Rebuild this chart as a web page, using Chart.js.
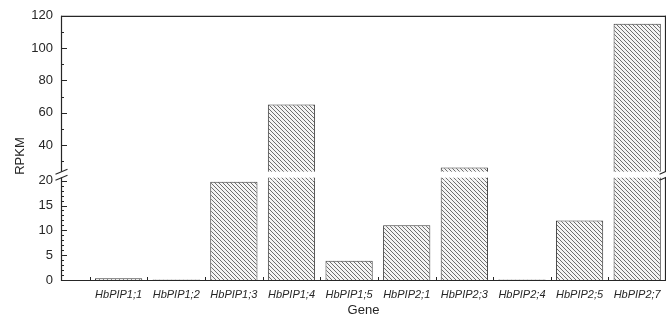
<!DOCTYPE html>
<html>
<head>
<meta charset="utf-8">
<script src="https://cdn.jsdelivr.net/npm/chart.js@4/dist/chart.umd.min.js"></script>
<style>
  html, body { margin: 0; padding: 0; background: #fff; }
  canvas { display: block; }
</style>
</head>
<body>
<canvas id="c" width="666" height="324"></canvas>
<script>
// Aquaporin (PIP) transcript abundance
const genes = ['HbPIP1;1', 'HbPIP1;2', 'HbPIP1;3', 'HbPIP1;4', 'HbPIP1;5',
               'HbPIP2;1', 'HbPIP2;3', 'HbPIP2;4', 'HbPIP2;5', 'HbPIP2;7'];
const rpkm = [0.35, 0.1, 19.8, 65, 3.9, 11, 26, 0.1, 12, 115];

// broken value axis: lower segment 0-20, upper segment 20-120
const BREAK = 20;
const lowTicks = [0, 5, 10, 15, 20];
const highTicks = [40, 60, 80, 100, 120];

const FONT = '"Liberation Sans", Arial, Helvetica, sans-serif';
const INK = '#262626';

function hatchPattern() {
  const c = document.createElement('canvas');
  c.width = 4; c.height = 4;
  const g = c.getContext('2d');
  g.fillStyle = '#f4f4f4';
  g.fillRect(0, 0, 4, 4);
  g.strokeStyle = '#6e6e6e';
  g.lineWidth = 1;
  g.beginPath();
  g.moveTo(-1, -1); g.lineTo(5, 5);
  g.moveTo(-1, 3); g.lineTo(1, 5);
  g.moveTo(3, -1); g.lineTo(5, 1);
  g.stroke();
  return g.createPattern(c, 'repeat');
}
const hatch = hatchPattern();

const lowData = rpkm.map((v, i) => ({ x: i + 1, y: Math.min(v, BREAK) }));
const highData = rpkm.map((v, i) => ({ x: i + 1, y: v > BREAK ? v : null }));

function line(ctx, x1, y1, x2, y2) {
  ctx.beginPath();
  ctx.moveTo(x1, y1);
  ctx.lineTo(x2, y2);
  ctx.stroke();
}

// frame, inward tick marks, axis break and y title
const framePlugin = {
  id: 'frame',
  afterDatasetsDraw(chart) {
    const ctx = chart.ctx;
    const a = chart.chartArea;
    const x = chart.scales.x, lo = chart.scales.yLow, hi = chart.scales.yHigh;
    const b = lo.top;
    const gTop = b - 9, gBot = b - 3;
    ctx.save();
    // gap through the bars
    ctx.fillStyle = '#fff';
    ctx.fillRect(a.left + 1, gTop, a.right - a.left - 1, gBot - gTop);

    ctx.strokeStyle = INK;
    ctx.lineWidth = 1.2;
    const L = a.left + 0.5, R = a.right - 0.5, T = a.top + 0.5, B = a.bottom + 0.5;
    line(ctx, a.left, T, a.right, T);
    line(ctx, a.left, B, a.right, B);
    line(ctx, L, a.top, L, gTop);
    line(ctx, L, gBot, L, a.bottom + 1);
    line(ctx, R, a.top, R, gTop);
    line(ctx, R, gBot, R, a.bottom + 1);

    // break marks
    ctx.lineWidth = 1.1;
    [L, R].forEach(px => {
      line(ctx, px - 6, gTop + 2.5, px + 6, gTop - 2.5);
      line(ctx, px - 6, gBot + 2.5, px + 6, gBot - 2.5);
    });

    // y tick marks
    ctx.lineWidth = 1;
    for (let v = 0; v < BREAK; v += 1) {
      const py = Math.round(lo.getPixelForValue(v)) + 0.5;
      line(ctx, a.left, py, a.left + (v % 5 === 0 ? 6 : 3), py);
    }
    const p20 = Math.round(lo.getPixelForValue(BREAK)) + 0.5;
    line(ctx, a.left, p20, a.left + 6, p20);
    for (let v = 30; v <= 120; v += 10) {
      const py = Math.round(hi.getPixelForValue(v)) + 0.5;
      line(ctx, a.left, py, a.left + (v % 20 === 0 ? 6 : 3), py);
    }
    // x tick marks at category boundaries
    for (let i = 0; i < genes.length; i++) {
      const px = Math.round(x.getPixelForValue(i + 0.5)) + 0.5;
      line(ctx, px, a.bottom, px, a.bottom - 3);
    }

    // y axis title
    ctx.fillStyle = INK;
    ctx.font = '13px ' + FONT;
    ctx.textAlign = 'center';
    ctx.textBaseline = 'middle';
    ctx.translate(20, 156);
    ctx.rotate(-Math.PI / 2);
    ctx.fillText('RPKM', 0, 0);
    ctx.restore();
  }
};

const barStyle = {
  backgroundColor: hatch,
  borderColor: '#3a3a3a',
  barPercentage: 0.82,
  categoryPercentage: 1,
};

const yTickStyle = { autoSkip: false, padding: 8, color: INK, font: { family: FONT, size: 13 } };

new Chart(document.getElementById('c'), {
  type: 'bar',
  data: {
    datasets: [
      Object.assign({
        label: 'low',
        data: lowData,
        yAxisID: 'yLow',
        borderWidth: ctx => ({ top: rpkm[ctx.dataIndex] > BREAK ? 0 : 1, left: 1, right: 1, bottom: 0 }),
        borderSkipped: false,
        grouped: false,
      }, barStyle),
      Object.assign({
        label: 'high',
        data: highData,
        yAxisID: 'yHigh',
        borderWidth: { top: 1, left: 1, right: 1, bottom: 0 },
        borderSkipped: false,
        grouped: false,
      }, barStyle),
    ]
  },
  options: {
    responsive: false,
    animation: false,
    layout: { padding: { top: 14, left: 0, right: 0, bottom: 0 } },
    plugins: { legend: { display: false }, tooltip: { enabled: false } },
    scales: {
      x: {
        type: 'linear',
        offset: false,
        min: 0,
        max: 10.5,
        grid: { display: false, drawTicks: false, offset: false },
        border: { display: false },
        afterBuildTicks: s => { s.ticks = genes.map((g, i) => ({ value: i + 1 })); },
        ticks: {
          autoSkip: false,
          maxRotation: 0,
          minRotation: 0,
          padding: 8,
          color: INK,
          font: { family: FONT, size: 11, style: 'italic' },
          callback: v => genes[v - 1],
        },
        title: {
          display: true,
          text: 'Gene',
          color: INK,
          font: { family: FONT, size: 13 },
          padding: { top: 4, bottom: 6 },
        },
        // frame runs to the right edge of the canvas
        afterFit: s => { s.height = 44; s.paddingLeft = 0; s.paddingRight = 0; },
      },
      yLow: {
        type: 'linear',
        position: 'left',
        stack: 'rpkm',
        stackWeight: 100,
        min: 0,
        max: BREAK,
        grid: { display: false, drawTicks: false },
        border: { display: false },
        afterBuildTicks: s => { s.ticks = lowTicks.map(v => ({ value: v })); },
        ticks: yTickStyle,
        afterFit: s => { s.width = 61; },
      },
      yHigh: {
        type: 'linear',
        position: 'left',
        stack: 'rpkm',
        stackWeight: 166,
        beginAtZero: false,
        min: 17.85,
        max: 120,
        grid: { display: false, drawTicks: false },
        border: { display: false },
        afterBuildTicks: s => { s.ticks = highTicks.map(v => ({ value: v })); },
        ticks: yTickStyle,
        afterFit: s => { s.width = 61; },
      },
    }
  },
  plugins: [framePlugin]
});
</script>
</body>
</html>
